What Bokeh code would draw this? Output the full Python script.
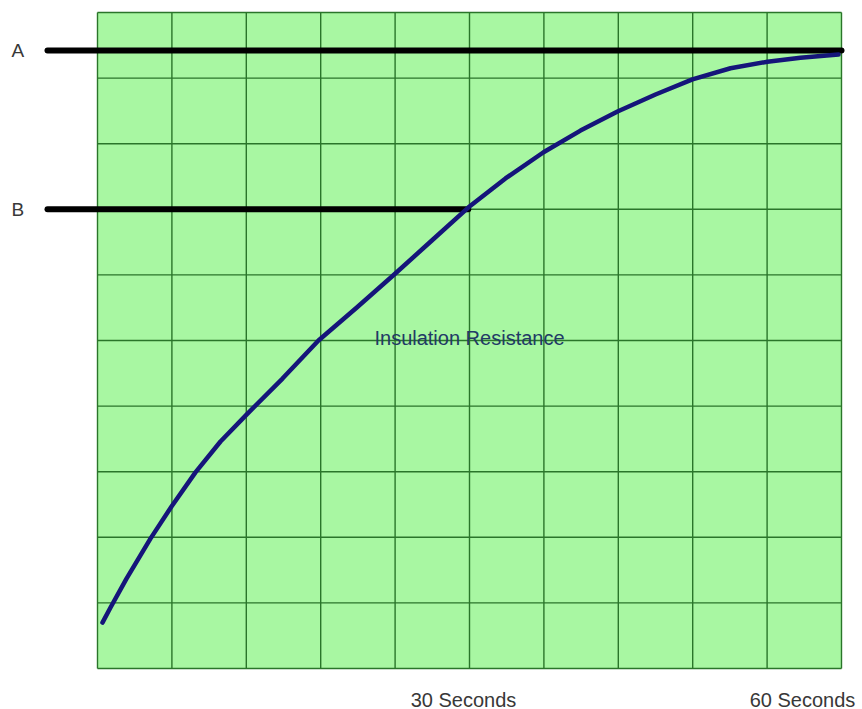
from bokeh.plotting import figure
from bokeh.models import Range1d
from bokeh.core.properties import value
from bokeh.embed import file_html
from bokeh.resources import INLINE

# ---- data ----
time_s = [0.40, 1.05, 2.34, 4.27, 5.97, 7.90, 9.92, 12.02, 14.92, 17.82, 20.89, 23.95,
          26.94, 29.92, 32.90, 35.97, 38.95, 41.94, 45.00, 47.98, 51.05, 54.03, 56.69, 59.76]
resistance = [0.70, 0.93, 1.37, 1.98, 2.47, 2.99, 3.46, 3.87, 4.42, 5.00, 5.50, 6.01,
              6.52, 7.03, 7.47, 7.87, 8.20, 8.49, 8.75, 8.98, 9.15, 9.25, 9.31, 9.36]
level_names = ["A", "B"]
level_values = [9.42, 7.0]
level_end_time = [60, 29.9]
tick_values = [30, 60]
tick_labels = ["30 Seconds", "60 Seconds"]
curve_label = "Insulation Resistance"
x_cells = list(range(0, 61, 6))
y_cells = list(range(0, 11))

W, H = 862, 709
# pixel placement of the frame
PX0, PX1 = 97, 841
PY0, PY1 = 668, 12  # y=0 at 668px, y=10 at 12px
sx = (PX1 - PX0) / 60.0
sy = (PY0 - PY1) / 10.0


def dx(px):
    return (px - PX0) / sx


def dy(py):
    return (PY0 - py) / sy


p = figure(width=W, height=H, output_backend="svg", toolbar_location=None,
           x_range=Range1d(dx(0), dx(W)), y_range=Range1d(dy(H), dy(0)),
           min_border=0, background_fill_color="white", border_fill_color="white")
p.axis.visible = False
p.grid.visible = False
p.outline_line_color = None

# green panel
p.quad(left=[0], right=[60], bottom=[0], top=[10],
       fill_color="#a8f7a2", line_color=None)

grid_col = "#2a752a"
p.segment(x0=x_cells, x1=x_cells, y0=[0] * len(x_cells), y1=[10] * len(x_cells),
          line_color=grid_col, line_width=1.4)
p.segment(x0=[0] * len(y_cells), x1=[60] * len(y_cells), y0=y_cells, y1=y_cells,
          line_color=grid_col, line_width=1.4)

# reference levels
x_start = dx(47)
p.segment(x0=[x_start] * len(level_values), x1=level_end_time,
          y0=level_values, y1=level_values,
          line_color="black", line_width=6, line_cap="round")

# curve
p.line(time_s, resistance, line_color="#15157a", line_width=4.5, line_cap="round",
       line_join="round")

font = value("Liberation Sans")
# level labels
p.text(x=[dx(11)] * len(level_names), y=level_values, text=level_names,
       text_font=font, text_font_size="19px", text_color="#383838",
       text_align="left", text_baseline="middle")

# curve label
p.text(x=[dx(469)], y=[dy(337)], text=[curve_label], text_font=font,
       text_font_size="20px", text_color="#223a66", text_align="center",
       text_baseline="middle")

# tick labels
p.text(x=tick_values, y=[dy(699)] * len(tick_values), text=tick_labels,
       text_font=font, text_font_size="20px", text_color="#383838",
       text_align="center", text_baseline="middle",
       x_offset=[-6, -39])

open("out.html", "w").write(file_html(p, INLINE))
